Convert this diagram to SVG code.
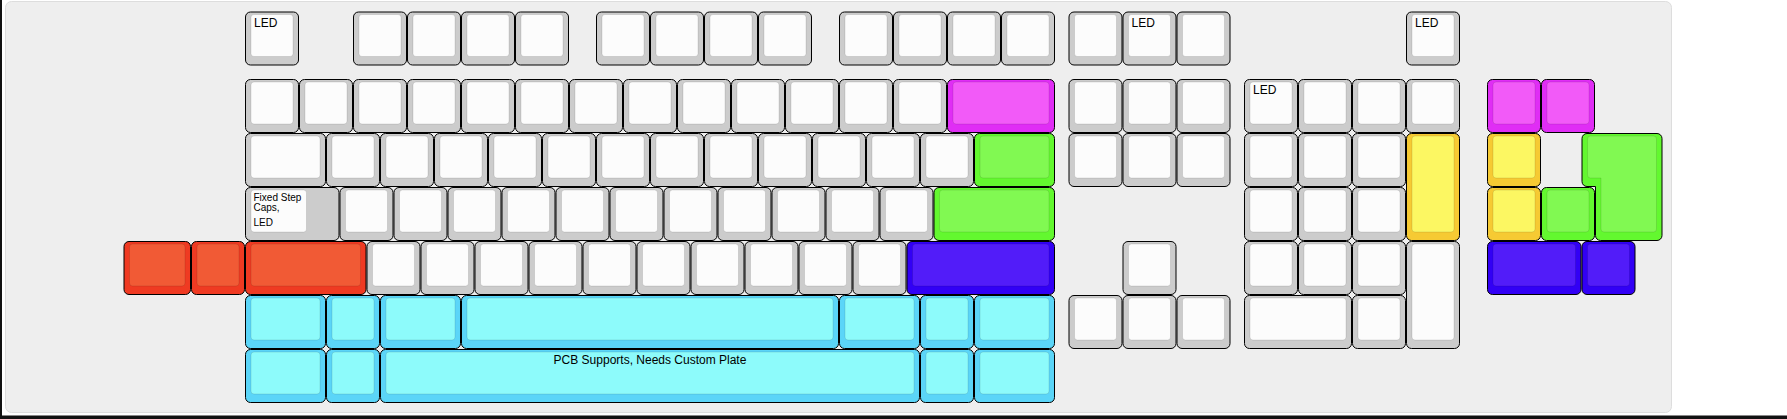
<svg xmlns="http://www.w3.org/2000/svg" width="1787" height="419" viewBox="0 0 1787 419">
<style>
.o{stroke:#000;stroke-width:1}
.i{stroke:rgba(0,0,0,0.1);stroke-width:1}
.grey .o{fill:#cccccc}.grey .i{fill:#fcfcfc}
.mag .o{fill:#e02df5}.mag .i{fill:#f25af8}
.grn .o{fill:#63f82f}.grn .i{fill:#81f952}
.yel .o{fill:#f6ca33}.yel .i{fill:#fcf762}
.red .o{fill:#ef3a22}.red .i{fill:#f15a35}
.cyn .o{fill:#5bd5f8}.cyn .i{fill:#8dfbfb}
.blu .o{fill:#3200f5}.blu .i{fill:#521cf9}
text{font-family:"Liberation Sans",Arial,sans-serif;fill:#000}
.l12{font-size:12px}.l10{font-size:10px}
</style>
<rect x="0" y="0" width="1787" height="419" fill="#ffffff"/>
<g id="board">
<rect x="5.5" y="1.5" width="1666" height="411" rx="6" fill="#eeeeee" stroke="#dddddd"/>
<rect x="0" y="0" width="2" height="419" fill="#111"/>
<rect x="0" y="415.5" width="1787" height="3.5" fill="#111"/>
</g>
<g id="row0">
<g id="k0_0" class="grey"><rect class="o" x="245.5" y="12" width="53" height="53" rx="5"/><rect class="i" x="251" y="14.5" width="42" height="42" rx="3"/><text class="l12" x="254" y="26.5">LED</text></g>
<g id="k0_1" class="grey"><rect class="o" x="353.5" y="12" width="53" height="53" rx="5"/><rect class="i" x="359" y="14.5" width="42" height="42" rx="3"/></g>
<g id="k0_2" class="grey"><rect class="o" x="407.5" y="12" width="53" height="53" rx="5"/><rect class="i" x="413" y="14.5" width="42" height="42" rx="3"/></g>
<g id="k0_3" class="grey"><rect class="o" x="461.5" y="12" width="53" height="53" rx="5"/><rect class="i" x="467" y="14.5" width="42" height="42" rx="3"/></g>
<g id="k0_4" class="grey"><rect class="o" x="515.5" y="12" width="53" height="53" rx="5"/><rect class="i" x="521" y="14.5" width="42" height="42" rx="3"/></g>
<g id="k0_5" class="grey"><rect class="o" x="596.5" y="12" width="53" height="53" rx="5"/><rect class="i" x="602" y="14.5" width="42" height="42" rx="3"/></g>
<g id="k0_6" class="grey"><rect class="o" x="650.5" y="12" width="53" height="53" rx="5"/><rect class="i" x="656" y="14.5" width="42" height="42" rx="3"/></g>
<g id="k0_7" class="grey"><rect class="o" x="704.5" y="12" width="53" height="53" rx="5"/><rect class="i" x="710" y="14.5" width="42" height="42" rx="3"/></g>
<g id="k0_8" class="grey"><rect class="o" x="758.5" y="12" width="53" height="53" rx="5"/><rect class="i" x="764" y="14.5" width="42" height="42" rx="3"/></g>
<g id="k0_9" class="grey"><rect class="o" x="839.5" y="12" width="53" height="53" rx="5"/><rect class="i" x="845" y="14.5" width="42" height="42" rx="3"/></g>
<g id="k0_10" class="grey"><rect class="o" x="893.5" y="12" width="53" height="53" rx="5"/><rect class="i" x="899" y="14.5" width="42" height="42" rx="3"/></g>
<g id="k0_11" class="grey"><rect class="o" x="947.5" y="12" width="53" height="53" rx="5"/><rect class="i" x="953" y="14.5" width="42" height="42" rx="3"/></g>
<g id="k0_12" class="grey"><rect class="o" x="1001.5" y="12" width="53" height="53" rx="5"/><rect class="i" x="1007" y="14.5" width="42" height="42" rx="3"/></g>
<g id="k0_13" class="grey"><rect class="o" x="1069" y="12" width="53" height="53" rx="5"/><rect class="i" x="1074.5" y="14.5" width="42" height="42" rx="3"/></g>
<g id="k0_14" class="grey"><rect class="o" x="1123" y="12" width="53" height="53" rx="5"/><rect class="i" x="1128.5" y="14.5" width="42" height="42" rx="3"/><text class="l12" x="1131.5" y="26.5">LED</text></g>
<g id="k0_15" class="grey"><rect class="o" x="1177" y="12" width="53" height="53" rx="5"/><rect class="i" x="1182.5" y="14.5" width="42" height="42" rx="3"/></g>
<g id="k0_16" class="grey"><rect class="o" x="1406.5" y="12" width="53" height="53" rx="5"/><rect class="i" x="1412" y="14.5" width="42" height="42" rx="3"/><text class="l12" x="1415" y="26.5">LED</text></g>
</g>
<g id="row1">
<g id="k1_0" class="grey"><rect class="o" x="245.5" y="79.5" width="53" height="53" rx="5"/><rect class="i" x="251" y="82" width="42" height="42" rx="3"/></g>
<g id="k1_1" class="grey"><rect class="o" x="299.5" y="79.5" width="53" height="53" rx="5"/><rect class="i" x="305" y="82" width="42" height="42" rx="3"/></g>
<g id="k1_2" class="grey"><rect class="o" x="353.5" y="79.5" width="53" height="53" rx="5"/><rect class="i" x="359" y="82" width="42" height="42" rx="3"/></g>
<g id="k1_3" class="grey"><rect class="o" x="407.5" y="79.5" width="53" height="53" rx="5"/><rect class="i" x="413" y="82" width="42" height="42" rx="3"/></g>
<g id="k1_4" class="grey"><rect class="o" x="461.5" y="79.5" width="53" height="53" rx="5"/><rect class="i" x="467" y="82" width="42" height="42" rx="3"/></g>
<g id="k1_5" class="grey"><rect class="o" x="515.5" y="79.5" width="53" height="53" rx="5"/><rect class="i" x="521" y="82" width="42" height="42" rx="3"/></g>
<g id="k1_6" class="grey"><rect class="o" x="569.5" y="79.5" width="53" height="53" rx="5"/><rect class="i" x="575" y="82" width="42" height="42" rx="3"/></g>
<g id="k1_7" class="grey"><rect class="o" x="623.5" y="79.5" width="53" height="53" rx="5"/><rect class="i" x="629" y="82" width="42" height="42" rx="3"/></g>
<g id="k1_8" class="grey"><rect class="o" x="677.5" y="79.5" width="53" height="53" rx="5"/><rect class="i" x="683" y="82" width="42" height="42" rx="3"/></g>
<g id="k1_9" class="grey"><rect class="o" x="731.5" y="79.5" width="53" height="53" rx="5"/><rect class="i" x="737" y="82" width="42" height="42" rx="3"/></g>
<g id="k1_10" class="grey"><rect class="o" x="785.5" y="79.5" width="53" height="53" rx="5"/><rect class="i" x="791" y="82" width="42" height="42" rx="3"/></g>
<g id="k1_11" class="grey"><rect class="o" x="839.5" y="79.5" width="53" height="53" rx="5"/><rect class="i" x="845" y="82" width="42" height="42" rx="3"/></g>
<g id="k1_12" class="grey"><rect class="o" x="893.5" y="79.5" width="53" height="53" rx="5"/><rect class="i" x="899" y="82" width="42" height="42" rx="3"/></g>
<g id="k1_13" class="mag"><rect class="o" x="947.5" y="79.5" width="107" height="53" rx="5"/><rect class="i" x="953" y="82" width="96" height="42" rx="3"/></g>
<g id="k1_14" class="grey"><rect class="o" x="1069" y="79.5" width="53" height="53" rx="5"/><rect class="i" x="1074.5" y="82" width="42" height="42" rx="3"/></g>
<g id="k1_15" class="grey"><rect class="o" x="1123" y="79.5" width="53" height="53" rx="5"/><rect class="i" x="1128.5" y="82" width="42" height="42" rx="3"/></g>
<g id="k1_16" class="grey"><rect class="o" x="1177" y="79.5" width="53" height="53" rx="5"/><rect class="i" x="1182.5" y="82" width="42" height="42" rx="3"/></g>
<g id="k1_17" class="grey"><rect class="o" x="1244.5" y="79.5" width="53" height="53" rx="5"/><rect class="i" x="1250" y="82" width="42" height="42" rx="3"/><text class="l12" x="1253" y="94">LED</text></g>
<g id="k1_18" class="grey"><rect class="o" x="1298.5" y="79.5" width="53" height="53" rx="5"/><rect class="i" x="1304" y="82" width="42" height="42" rx="3"/></g>
<g id="k1_19" class="grey"><rect class="o" x="1352.5" y="79.5" width="53" height="53" rx="5"/><rect class="i" x="1358" y="82" width="42" height="42" rx="3"/></g>
<g id="k1_20" class="grey"><rect class="o" x="1406.5" y="79.5" width="53" height="53" rx="5"/><rect class="i" x="1412" y="82" width="42" height="42" rx="3"/></g>
<g id="k1_21" class="mag"><rect class="o" x="1487.5" y="79.5" width="53" height="53" rx="5"/><rect class="i" x="1493" y="82" width="42" height="42" rx="3"/></g>
<g id="k1_22" class="mag"><rect class="o" x="1541.5" y="79.5" width="53" height="53" rx="5"/><rect class="i" x="1547" y="82" width="42" height="42" rx="3"/></g>
</g>
<g id="row2">
<g id="k2_0" class="grey"><rect class="o" x="245.5" y="133.5" width="80" height="53" rx="5"/><rect class="i" x="251" y="136" width="69" height="42" rx="3"/></g>
<g id="k2_1" class="grey"><rect class="o" x="326.5" y="133.5" width="53" height="53" rx="5"/><rect class="i" x="332" y="136" width="42" height="42" rx="3"/></g>
<g id="k2_2" class="grey"><rect class="o" x="380.5" y="133.5" width="53" height="53" rx="5"/><rect class="i" x="386" y="136" width="42" height="42" rx="3"/></g>
<g id="k2_3" class="grey"><rect class="o" x="434.5" y="133.5" width="53" height="53" rx="5"/><rect class="i" x="440" y="136" width="42" height="42" rx="3"/></g>
<g id="k2_4" class="grey"><rect class="o" x="488.5" y="133.5" width="53" height="53" rx="5"/><rect class="i" x="494" y="136" width="42" height="42" rx="3"/></g>
<g id="k2_5" class="grey"><rect class="o" x="542.5" y="133.5" width="53" height="53" rx="5"/><rect class="i" x="548" y="136" width="42" height="42" rx="3"/></g>
<g id="k2_6" class="grey"><rect class="o" x="596.5" y="133.5" width="53" height="53" rx="5"/><rect class="i" x="602" y="136" width="42" height="42" rx="3"/></g>
<g id="k2_7" class="grey"><rect class="o" x="650.5" y="133.5" width="53" height="53" rx="5"/><rect class="i" x="656" y="136" width="42" height="42" rx="3"/></g>
<g id="k2_8" class="grey"><rect class="o" x="704.5" y="133.5" width="53" height="53" rx="5"/><rect class="i" x="710" y="136" width="42" height="42" rx="3"/></g>
<g id="k2_9" class="grey"><rect class="o" x="758.5" y="133.5" width="53" height="53" rx="5"/><rect class="i" x="764" y="136" width="42" height="42" rx="3"/></g>
<g id="k2_10" class="grey"><rect class="o" x="812.5" y="133.5" width="53" height="53" rx="5"/><rect class="i" x="818" y="136" width="42" height="42" rx="3"/></g>
<g id="k2_11" class="grey"><rect class="o" x="866.5" y="133.5" width="53" height="53" rx="5"/><rect class="i" x="872" y="136" width="42" height="42" rx="3"/></g>
<g id="k2_12" class="grey"><rect class="o" x="920.5" y="133.5" width="53" height="53" rx="5"/><rect class="i" x="926" y="136" width="42" height="42" rx="3"/></g>
<g id="k2_13" class="grn"><rect class="o" x="974.5" y="133.5" width="80" height="53" rx="5"/><rect class="i" x="980" y="136" width="69" height="42" rx="3"/></g>
<g id="k2_14" class="grey"><rect class="o" x="1069" y="133.5" width="53" height="53" rx="5"/><rect class="i" x="1074.5" y="136" width="42" height="42" rx="3"/></g>
<g id="k2_15" class="grey"><rect class="o" x="1123" y="133.5" width="53" height="53" rx="5"/><rect class="i" x="1128.5" y="136" width="42" height="42" rx="3"/></g>
<g id="k2_16" class="grey"><rect class="o" x="1177" y="133.5" width="53" height="53" rx="5"/><rect class="i" x="1182.5" y="136" width="42" height="42" rx="3"/></g>
<g id="k2_17" class="grey"><rect class="o" x="1244.5" y="133.5" width="53" height="53" rx="5"/><rect class="i" x="1250" y="136" width="42" height="42" rx="3"/></g>
<g id="k2_18" class="grey"><rect class="o" x="1298.5" y="133.5" width="53" height="53" rx="5"/><rect class="i" x="1304" y="136" width="42" height="42" rx="3"/></g>
<g id="k2_19" class="grey"><rect class="o" x="1352.5" y="133.5" width="53" height="53" rx="5"/><rect class="i" x="1358" y="136" width="42" height="42" rx="3"/></g>
<g id="k2_20" class="yel"><rect class="o" x="1406.5" y="133.5" width="53" height="107" rx="5"/><rect class="i" x="1412" y="136" width="42" height="96" rx="3"/></g>
<g id="k2_21" class="yel"><rect class="o" x="1487.5" y="133.5" width="53" height="53" rx="5"/><rect class="i" x="1493" y="136" width="42" height="42" rx="3"/></g>
<g id="k2_22" class="grn"><path class="o" d="M1587,133.5 H1657 A5,5 0 0 1 1662,138.5 V235.5 A5,5 0 0 1 1657,240.5 H1600.5 A5,5 0 0 1 1595.5,235.5 V186.5 H1587 A5,5 0 0 1 1582,181.5 V138.5 A5,5 0 0 1 1587,133.5 Z"/><path class="i" d="M1590.5,136 H1653.5 A3,3 0 0 1 1656.5,139 V229 A3,3 0 0 1 1653.5,232 H1604 A3,3 0 0 1 1601,229 V178 H1590.5 A3,3 0 0 1 1587.5,175 V139 A3,3 0 0 1 1590.5,136 Z"/></g>
</g>
<g id="row3">
<g id="k3_0" class="grey"><rect class="o" x="245.5" y="187.5" width="93.5" height="53" rx="5"/><rect class="i" x="251" y="190" width="55.5" height="42" rx="3"/><text class="l10" x="253.5" y="200.7">Fixed Step</text><text class="l10" x="253.5" y="210.7">Caps,</text><text class="l10" x="253.5" y="225.7">LED</text></g>
<g id="k3_1" class="grey"><rect class="o" x="340" y="187.5" width="53" height="53" rx="5"/><rect class="i" x="345.5" y="190" width="42" height="42" rx="3"/></g>
<g id="k3_2" class="grey"><rect class="o" x="394" y="187.5" width="53" height="53" rx="5"/><rect class="i" x="399.5" y="190" width="42" height="42" rx="3"/></g>
<g id="k3_3" class="grey"><rect class="o" x="448" y="187.5" width="53" height="53" rx="5"/><rect class="i" x="453.5" y="190" width="42" height="42" rx="3"/></g>
<g id="k3_4" class="grey"><rect class="o" x="502" y="187.5" width="53" height="53" rx="5"/><rect class="i" x="507.5" y="190" width="42" height="42" rx="3"/></g>
<g id="k3_5" class="grey"><rect class="o" x="556" y="187.5" width="53" height="53" rx="5"/><rect class="i" x="561.5" y="190" width="42" height="42" rx="3"/></g>
<g id="k3_6" class="grey"><rect class="o" x="610" y="187.5" width="53" height="53" rx="5"/><rect class="i" x="615.5" y="190" width="42" height="42" rx="3"/></g>
<g id="k3_7" class="grey"><rect class="o" x="664" y="187.5" width="53" height="53" rx="5"/><rect class="i" x="669.5" y="190" width="42" height="42" rx="3"/></g>
<g id="k3_8" class="grey"><rect class="o" x="718" y="187.5" width="53" height="53" rx="5"/><rect class="i" x="723.5" y="190" width="42" height="42" rx="3"/></g>
<g id="k3_9" class="grey"><rect class="o" x="772" y="187.5" width="53" height="53" rx="5"/><rect class="i" x="777.5" y="190" width="42" height="42" rx="3"/></g>
<g id="k3_10" class="grey"><rect class="o" x="826" y="187.5" width="53" height="53" rx="5"/><rect class="i" x="831.5" y="190" width="42" height="42" rx="3"/></g>
<g id="k3_11" class="grey"><rect class="o" x="880" y="187.5" width="53" height="53" rx="5"/><rect class="i" x="885.5" y="190" width="42" height="42" rx="3"/></g>
<g id="k3_12" class="grn"><rect class="o" x="934" y="187.5" width="120.5" height="53" rx="5"/><rect class="i" x="939.5" y="190" width="109.5" height="42" rx="3"/></g>
<g id="k3_13" class="grey"><rect class="o" x="1244.5" y="187.5" width="53" height="53" rx="5"/><rect class="i" x="1250" y="190" width="42" height="42" rx="3"/></g>
<g id="k3_14" class="grey"><rect class="o" x="1298.5" y="187.5" width="53" height="53" rx="5"/><rect class="i" x="1304" y="190" width="42" height="42" rx="3"/></g>
<g id="k3_15" class="grey"><rect class="o" x="1352.5" y="187.5" width="53" height="53" rx="5"/><rect class="i" x="1358" y="190" width="42" height="42" rx="3"/></g>
<g id="k3_16" class="yel"><rect class="o" x="1487.5" y="187.5" width="53" height="53" rx="5"/><rect class="i" x="1493" y="190" width="42" height="42" rx="3"/></g>
<g id="k3_17" class="grn"><rect class="o" x="1541.5" y="187.5" width="53" height="53" rx="5"/><rect class="i" x="1547" y="190" width="42" height="42" rx="3"/></g>
</g>
<g id="row4">
<g id="k4_0" class="red"><rect class="o" x="124" y="241.5" width="66.5" height="53" rx="5"/><rect class="i" x="129.5" y="244" width="55.5" height="42" rx="3"/></g>
<g id="k4_1" class="red"><rect class="o" x="191.5" y="241.5" width="53" height="53" rx="5"/><rect class="i" x="197" y="244" width="42" height="42" rx="3"/></g>
<g id="k4_2" class="red"><rect class="o" x="245.5" y="241.5" width="120.5" height="53" rx="5"/><rect class="i" x="251" y="244" width="109.5" height="42" rx="3"/></g>
<g id="k4_3" class="grey"><rect class="o" x="367" y="241.5" width="53" height="53" rx="5"/><rect class="i" x="372.5" y="244" width="42" height="42" rx="3"/></g>
<g id="k4_4" class="grey"><rect class="o" x="421" y="241.5" width="53" height="53" rx="5"/><rect class="i" x="426.5" y="244" width="42" height="42" rx="3"/></g>
<g id="k4_5" class="grey"><rect class="o" x="475" y="241.5" width="53" height="53" rx="5"/><rect class="i" x="480.5" y="244" width="42" height="42" rx="3"/></g>
<g id="k4_6" class="grey"><rect class="o" x="529" y="241.5" width="53" height="53" rx="5"/><rect class="i" x="534.5" y="244" width="42" height="42" rx="3"/></g>
<g id="k4_7" class="grey"><rect class="o" x="583" y="241.5" width="53" height="53" rx="5"/><rect class="i" x="588.5" y="244" width="42" height="42" rx="3"/></g>
<g id="k4_8" class="grey"><rect class="o" x="637" y="241.5" width="53" height="53" rx="5"/><rect class="i" x="642.5" y="244" width="42" height="42" rx="3"/></g>
<g id="k4_9" class="grey"><rect class="o" x="691" y="241.5" width="53" height="53" rx="5"/><rect class="i" x="696.5" y="244" width="42" height="42" rx="3"/></g>
<g id="k4_10" class="grey"><rect class="o" x="745" y="241.5" width="53" height="53" rx="5"/><rect class="i" x="750.5" y="244" width="42" height="42" rx="3"/></g>
<g id="k4_11" class="grey"><rect class="o" x="799" y="241.5" width="53" height="53" rx="5"/><rect class="i" x="804.5" y="244" width="42" height="42" rx="3"/></g>
<g id="k4_12" class="grey"><rect class="o" x="853" y="241.5" width="53" height="53" rx="5"/><rect class="i" x="858.5" y="244" width="42" height="42" rx="3"/></g>
<g id="k4_13" class="blu"><rect class="o" x="907" y="241.5" width="147.5" height="53" rx="5"/><rect class="i" x="912.5" y="244" width="136.5" height="42" rx="3"/></g>
<g id="k4_14" class="grey"><rect class="o" x="1123" y="241.5" width="53" height="53" rx="5"/><rect class="i" x="1128.5" y="244" width="42" height="42" rx="3"/></g>
<g id="k4_15" class="grey"><rect class="o" x="1244.5" y="241.5" width="53" height="53" rx="5"/><rect class="i" x="1250" y="244" width="42" height="42" rx="3"/></g>
<g id="k4_16" class="grey"><rect class="o" x="1298.5" y="241.5" width="53" height="53" rx="5"/><rect class="i" x="1304" y="244" width="42" height="42" rx="3"/></g>
<g id="k4_17" class="grey"><rect class="o" x="1352.5" y="241.5" width="53" height="53" rx="5"/><rect class="i" x="1358" y="244" width="42" height="42" rx="3"/></g>
<g id="k4_18" class="grey"><rect class="o" x="1406.5" y="241.5" width="53" height="107" rx="5"/><rect class="i" x="1412" y="244" width="42" height="96" rx="3"/></g>
<g id="k4_19" class="blu"><rect class="o" x="1487.5" y="241.5" width="93.5" height="53" rx="5"/><rect class="i" x="1493" y="244" width="82.5" height="42" rx="3"/></g>
<g id="k4_20" class="blu"><rect class="o" x="1582" y="241.5" width="53" height="53" rx="5"/><rect class="i" x="1587.5" y="244" width="42" height="42" rx="3"/></g>
</g>
<g id="row5">
<g id="k5_0" class="cyn"><rect class="o" x="245.5" y="295.5" width="80" height="53" rx="5"/><rect class="i" x="251" y="298" width="69" height="42" rx="3"/></g>
<g id="k5_1" class="cyn"><rect class="o" x="326.5" y="295.5" width="53" height="53" rx="5"/><rect class="i" x="332" y="298" width="42" height="42" rx="3"/></g>
<g id="k5_2" class="cyn"><rect class="o" x="380.5" y="295.5" width="80" height="53" rx="5"/><rect class="i" x="386" y="298" width="69" height="42" rx="3"/></g>
<g id="k5_3" class="cyn"><rect class="o" x="461.5" y="295.5" width="377" height="53" rx="5"/><rect class="i" x="467" y="298" width="366" height="42" rx="3"/></g>
<g id="k5_4" class="cyn"><rect class="o" x="839.5" y="295.5" width="80" height="53" rx="5"/><rect class="i" x="845" y="298" width="69" height="42" rx="3"/></g>
<g id="k5_5" class="cyn"><rect class="o" x="920.5" y="295.5" width="53" height="53" rx="5"/><rect class="i" x="926" y="298" width="42" height="42" rx="3"/></g>
<g id="k5_6" class="cyn"><rect class="o" x="974.5" y="295.5" width="80" height="53" rx="5"/><rect class="i" x="980" y="298" width="69" height="42" rx="3"/></g>
<g id="k5_7" class="grey"><rect class="o" x="1069" y="295.5" width="53" height="53" rx="5"/><rect class="i" x="1074.5" y="298" width="42" height="42" rx="3"/></g>
<g id="k5_8" class="grey"><rect class="o" x="1123" y="295.5" width="53" height="53" rx="5"/><rect class="i" x="1128.5" y="298" width="42" height="42" rx="3"/></g>
<g id="k5_9" class="grey"><rect class="o" x="1177" y="295.5" width="53" height="53" rx="5"/><rect class="i" x="1182.5" y="298" width="42" height="42" rx="3"/></g>
<g id="k5_10" class="grey"><rect class="o" x="1244.5" y="295.5" width="107" height="53" rx="5"/><rect class="i" x="1250" y="298" width="96" height="42" rx="3"/></g>
<g id="k5_11" class="grey"><rect class="o" x="1352.5" y="295.5" width="53" height="53" rx="5"/><rect class="i" x="1358" y="298" width="42" height="42" rx="3"/></g>
</g>
<g id="row6">
<g id="k6_0" class="cyn"><rect class="o" x="245.5" y="349.5" width="80" height="53" rx="5"/><rect class="i" x="251" y="352" width="69" height="42" rx="3"/></g>
<g id="k6_1" class="cyn"><rect class="o" x="326.5" y="349.5" width="53" height="53" rx="5"/><rect class="i" x="332" y="352" width="42" height="42" rx="3"/></g>
<g id="k6_2" class="cyn"><rect class="o" x="380.5" y="349.5" width="539" height="53" rx="5"/><rect class="i" x="386" y="352" width="528" height="42" rx="3"/><text class="l12" x="650" y="364" text-anchor="middle">PCB Supports, Needs Custom Plate</text></g>
<g id="k6_3" class="cyn"><rect class="o" x="920.5" y="349.5" width="53" height="53" rx="5"/><rect class="i" x="926" y="352" width="42" height="42" rx="3"/></g>
<g id="k6_4" class="cyn"><rect class="o" x="974.5" y="349.5" width="80" height="53" rx="5"/><rect class="i" x="980" y="352" width="69" height="42" rx="3"/></g>
</g>
</svg>
